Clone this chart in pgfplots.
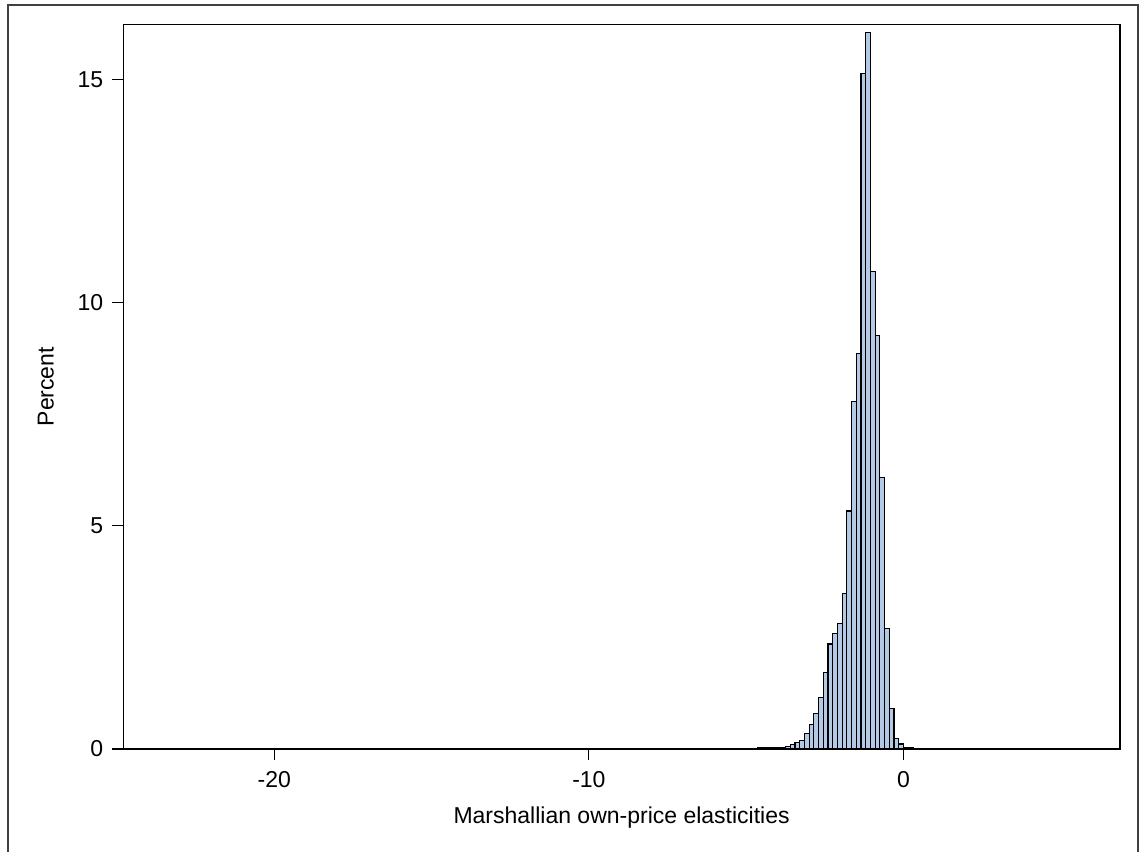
\documentclass[border=0pt]{standalone}
\usepackage{fontspec}
\setmainfont{Liberation Sans}
\usepackage{pgfplots}
\pgfplotsset{compat=1.18}
\definecolor{barfill}{RGB}{180,202,228}

\begin{document}
\begin{tikzpicture}
% page frame, 1 px = 0.5pt
\useasboundingbox (0,0) rectangle (569.5pt,426pt);
\draw[black!75, line width=0.9pt] (4pt,0) -- (4pt,423.5pt) -- (568.8pt,423.5pt) -- (568.8pt,0);

\begin{axis}[
    at={(61.65pt,51.5pt)}, anchor=south west,
    scale only axis,
    width=498.3pt, height=362.3pt,
    xmin=-24.8, xmax=6.88,
    ymin=0, ymax=16.23,
    xtick={-20,-10,0},
    ytick={0,5,10,15},
    tick align=outside,
    major tick length=5.5pt,
    tick style={black, line width=0.6pt},
    axis line style={line width=0.75pt},
    axis x line*=bottom, axis y line*=left,
    clip=false,
    ticklabel style={font=\fontsize{11.5}{13}\selectfont},
    /pgf/number format/assume math mode=true,
    xticklabel style={yshift=-2pt},
    yticklabel style={xshift=-1pt},
    xlabel={Marshallian own-price elasticities},
    ylabel={Percent},
    label style={font=\fontsize{11.5}{13}\selectfont},
    xlabel style={yshift=-3pt},
    ylabel style={yshift=5pt},
]
\addplot[ybar interval, fill=barfill, draw=black, line width=0.6pt] coordinates {
(-4.65,0.04) (-4.50,0.04) (-4.35,0.04) (-4.20,0.04) (-4.05,0.04) (-3.90,0.04)
(-3.75,0.05) (-3.60,0.10) (-3.45,0.15) (-3.30,0.19) (-3.15,0.35) (-3.00,0.55)
(-2.85,0.79) (-2.70,1.15) (-2.55,1.72) (-2.40,2.35) (-2.25,2.58) (-2.10,2.82)
(-1.95,3.49) (-1.80,5.33) (-1.65,7.78) (-1.50,8.85) (-1.35,15.13) (-1.20,16.05)
(-1.05,10.69) (-0.90,9.26) (-0.75,6.08) (-0.60,2.70) (-0.45,0.91) (-0.30,0.24)
(-0.15,0.11) (0.00,0.04) (0.15,0.03) (0.30,0)
};
\end{axis}
% top and right axis box lines
\draw[line width=0.75pt] (61.65pt,51.5pt) rectangle ++(498.3pt,362.3pt);
\end{tikzpicture}
\end{document}
